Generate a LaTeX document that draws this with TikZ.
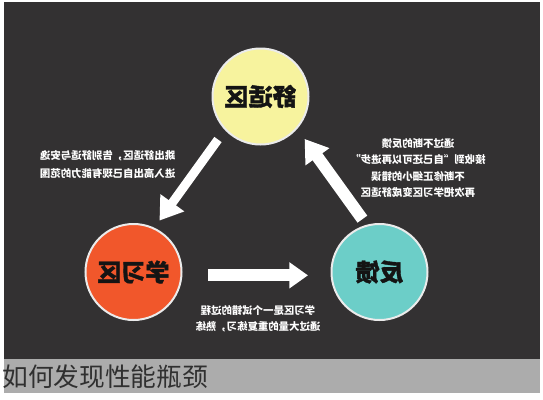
\documentclass[tikz,border=0pt]{standalone}
\usepackage{fontspec}
\usepackage{graphicx}
\usetikzlibrary{arrows.meta}
\newfontfamily\cjk{Noto Sans CJK SC}
\newfontfamily\cjkheavy{Noto Sans CJK SC}[BoldFeatures={FakeBold=1.5}]
\definecolor{bgdark}{RGB}{51,49,50}
\definecolor{bargray}{RGB}{172,172,172}
\definecolor{zoneyellow}{RGB}{247,243,158}
\definecolor{zoneorange}{RGB}{241,87,43}
\definecolor{zoneteal}{RGB}{108,206,200}
\definecolor{captext}{RGB}{48,48,48}
\definecolor{zonetext}{RGB}{20,20,20}
\newcommand{\mirlines}[3]{\reflectbox{\fontsize{7.8pt}{#1}\selectfont\begin{tabular}{@{}#2@{}}#3\end{tabular}}}
\tikzset{
  zone/.style={circle, draw=white!92!black, line width=1.5pt, minimum size=72pt,
    inner sep=0pt, outer sep=0pt, text=zonetext,
    font=\cjkheavy\bfseries\fontsize{18pt}{20pt}\selectfont},
  note/.style={text=white, inner sep=0pt, font=\cjk\bfseries},
  bigarrow/.style={draw=white, line width=#1},
}
\begin{document}
\begin{tikzpicture}[x=0.75pt, y=-0.75pt]
\useasboundingbox (0,0) rectangle (543,400);
\fill[white] (0,0) rectangle (543,400);
\fill[bgdark] (4,2) rectangle (540,359);
\fill[bargray] (4,359) rectangle (540,393);

\node[zone, fill=zoneyellow] (comfort) at (260.5,96.5) {\reflectbox{舒适区}};
\node[zone, fill=zoneorange] (learn) at (133.5,272) {\reflectbox{学习区}};
\node[zone, fill=zoneteal] (feedback) at (379.5,272) {\reflectbox{反馈}};

\draw[bigarrow=6.75pt, -{Triangle[width=21pt, length=16.5pt]},
      shorten <=9.5pt, shorten >=7.3pt] (comfort.223) -- (learn.65);
\draw[bigarrow=9pt, -{Triangle[width=18.75pt, length=14pt]},
      shorten <=20pt, shorten >=17.7pt] (learn.356) -- (feedback.184);
\draw[bigarrow=9pt, -{Triangle[width=21pt, length=16.5pt]},
      shorten <=6pt, shorten >=10.1pt] (feedback.105) -- (comfort.319);

\node[note] (leftnote) at (107.7,165) {\mirlines{13.5pt}{l}{跳出舒适区，告别舒适与安逸\\进入高出自己现有能力的范围}};
\node[note] (rightnote) at (418,168.5) {\mirlines{12.4pt}{c}{通过不断的反馈\\接收到“自己还可以再进步”\\不断修正细小的错误\\再次把学习区变成舒适区}};
\node[note] (bottomnote) at (258,319) {\mirlines{12.4pt}{c}{学习区是一个试错的过程\\通过大量的重复练习，熟练}};

\node[anchor=west, inner sep=0pt, text=captext, font=\cjk\fontsize{19.3pt}{22pt}\selectfont] (caption) at (2,377) {如何发现性能瓶颈};
\end{tikzpicture}
\end{document}
